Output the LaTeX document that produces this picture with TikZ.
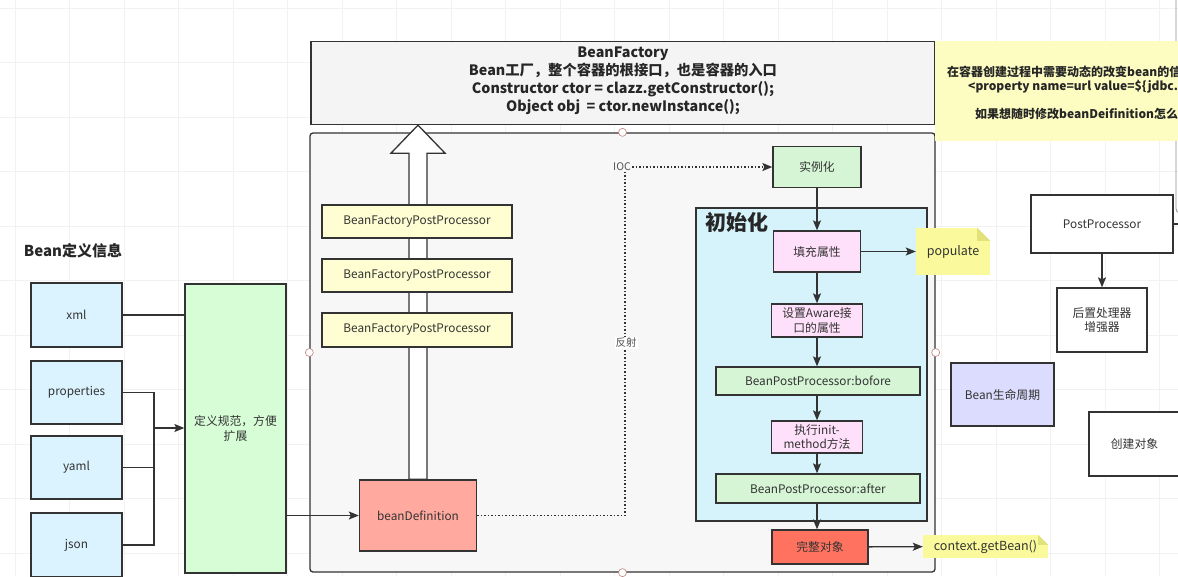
\documentclass[tikz,border=0pt]{standalone}
\usepackage{fontspec}
\setmainfont{Noto Sans CJK SC}
\usepackage{tikz}
\usetikzlibrary{arrows.meta}

\definecolor{edge}{HTML}{333333}
\definecolor{ink}{HTML}{333333}
\definecolor{bfgray}{HTML}{F4F4F4}
\definecolor{iocgray}{HTML}{F7F7F7}
\definecolor{procy}{HTML}{FEFED2}
\definecolor{defred}{HTML}{FFA99F}
\definecolor{stepgreen}{HTML}{D5F5D5}
\definecolor{initblue}{HTML}{D6F3FC}
\definecolor{steppink}{HTML}{FFE0FA}
\definecolor{fullred}{HTML}{FF725F}
\definecolor{notey}{HTML}{FAFA9C}
\definecolor{foldy}{HTML}{E2E27A}
\definecolor{tipy}{HTML}{FDFDC2}
\definecolor{srcblue}{HTML}{DAF3FE}
\definecolor{specgreen}{HTML}{D7FDD7}
\definecolor{lifeblue}{HTML}{DCDCFE}
\definecolor{handlered}{HTML}{C08080}

\begin{document}
\begin{tikzpicture}[x=1pt,y=-1pt,
  font=\fontsize{11.8}{14.5}\selectfont,
  box/.style={draw=edge,line width=1.3pt,text=ink,align=center,inner sep=2pt},
  link/.style={draw=edge,line width=1.3pt},
  flow/.style={link,-{Stealth[length=10pt,width=8pt,inset=2pt]}},
  dots/.style={draw=edge,line width=1.5pt,dotted},
  tag/.style={text=ink!85,inner sep=1pt,font=\fontsize{10.5}{12}\selectfont},
  gridline/.style={draw=black!5,line width=0.5pt},
  handle/.style={draw=handlered,fill=white,line width=0.6pt,circle,inner sep=0pt,minimum size=8pt},
  note/.style={fill=notey,text=ink,inner sep=3pt,font=\fontsize{12.5}{14}\selectfont}]
  \fill[white] (0,0) rectangle (1178,576);
  \useasboundingbox (0,0) rectangle (1178,576);
  \foreach \i in {0,...,21} \draw[gridline] (15+54.5*\i,0) -- (15+54.5*\i,576);
  \foreach \j in {0,...,10} \draw[gridline] (0,8+54.5*\j) -- (1178,8+54.5*\j);

  % left: sources of bean definitions
  \node[font=\bfseries\fontsize{15}{18}\selectfont,text=black!85] (deftitle) at (73,251) {Bean定义信息};
  \node[box,fill=srcblue,minimum width=91pt,minimum height=64pt] (xml) at (76.5,315) {xml};
  \node[box,fill=srcblue,minimum width=91pt,minimum height=63pt] (props) at (76.5,392.5) {properties};
  \node[box,fill=srcblue,minimum width=91pt,minimum height=63pt] (yaml) at (76.5,467.5) {yaml};
  \node[box,fill=srcblue,minimum width=91pt,minimum height=64pt] (json) at (76.5,545) {json};
  \node[box,fill=specgreen,minimum width=101pt,minimum height=289pt] (spec) at (235.5,428.5) {定义规范，方便\\扩展};
  \coordinate (merge) at (154,428);
  \draw[link] (xml.east) -- (xml.east -| spec.west);
  \draw[link] (props.east) -| (merge) |- (json.east);
  \draw[link] (yaml.east) -- (yaml.east -| merge);
  \draw[flow] (merge) -- (merge -| spec.west);

  % container
  \node[box,fill=bfgray,minimum width=624pt,minimum height=83pt] (bf) at (623,83) {};
  \node[font=\bfseries\fontsize{14.3}{18}\selectfont,text=black!85,align=center] (bftext) at (623,81)
    {BeanFactory\\Bean工厂，整个容器的根接口，也是容器的入口\\Constructor ctor = clazz.getConstructor();\\Object obj\ \ = ctor.newInstance();};
  \node[box,fill=iocgray,rounded corners=3pt,minimum width=625pt,minimum height=439pt] (ioc) at (622.5,352.5) {};

  \node[box,fill=defred,minimum width=117pt,minimum height=71pt] (bd) at (418,515.5) {beanDefinition};
  \draw[flow] (spec.east |- bd) -- (bd.west);

  % hollow arrow up to the factory
  \draw[draw=edge,line width=1.3pt,fill=white]
    ([xshift=-9pt]bd.north) -- ([xshift=-9pt,yshift=-28pt]bd.north |- bf.south)
    -- ([xshift=-27pt,yshift=-28pt]bd.north |- bf.south) -- (bd.north |- bf.south)
    -- ([xshift=27pt,yshift=-28pt]bd.north |- bf.south) -- ([xshift=9pt,yshift=-28pt]bd.north |- bf.south)
    -- ([xshift=9pt]bd.north) -- cycle;
  \node[box,fill=procy,minimum width=190pt,minimum height=33pt] (bfpp1) at (417,221.5) {BeanFactoryPostProcessor};
  \node[box,fill=procy,minimum width=190pt,minimum height=33pt] (bfpp2) at (417,275.5) {BeanFactoryPostProcessor};
  \node[box,fill=procy,minimum width=190pt,minimum height=34pt] (bfpp3) at (417,330) {BeanFactoryPostProcessor};

  % life cycle
  \node[box,fill=stepgreen,minimum width=88pt,minimum height=41pt] (inst) at (817,167) {实例化};
  \coordinate (turn) at (625,167);
  \draw[dots] (bd.east) -| (turn);
  \draw[dots,-{Stealth[length=10pt,width=8pt,inset=2pt]}] (turn) -- (inst.west);
  \node[tag,fill=iocgray] (ioclabel) at (622,167) {IOC};
  \node[tag,fill=white] (reflect) at (626,343) {反射};

  \node[box,fill=initblue,minimum width=231pt,minimum height=313pt] (init) at (811.5,364.5) {};
  \node[font=\bfseries\fontsize{21}{24}\selectfont,text=black!85,anchor=west] (inittitle) at (702,222) {初始化};
  \node[box,fill=steppink,minimum width=87pt,minimum height=41pt] (fill) at (817,251.5) {填充属性};
  \node[box,fill=steppink,minimum width=91pt,minimum height=33pt] (aware) at (817,320.5) {设置Aware接\\口的属性};
  \node[box,fill=stepgreen,minimum width=204pt,minimum height=28pt] (before) at (818,381) {BeanPostProcessor:bofore};
  \node[box,fill=steppink,minimum width=91pt,minimum height=32pt] (exec) at (817,437) {执行init-\\method方法};
  \node[box,fill=stepgreen,minimum width=204pt,minimum height=29pt] (after) at (818,488.5) {BeanPostProcessor:after};
  \node[box,fill=fullred,minimum width=96pt,minimum height=34pt] (full) at (820,547) {完整对象};
  \draw[flow] (inst) -- (fill);
  \draw[flow] (fill) -- (aware);
  \draw[flow] (aware) -- (aware |- before.north);
  \draw[flow] (before.south -| exec) -- (exec);
  \draw[flow] (exec) -- (exec |- after.north);
  \draw[flow] (after.south -| exec) -- (exec |- full.north);

  \node[note,minimum width=74pt,minimum height=47pt] (pop) at (953,251.5) {populate};
  \fill[white] ([xshift=-13pt]pop.north east) -- (pop.north east) -- ([yshift=-13pt]pop.north east) -- cycle;
  \fill[foldy] ([xshift=-13pt]pop.north east) -- ([yshift=-13pt]pop.north east) -- ([xshift=-13pt,yshift=-13pt]pop.north east) -- cycle;
  \draw[flow] (fill) -- (pop);
  \node[note,minimum width=125pt,minimum height=23pt] (getbean) at (985.5,546.5) {context.getBean()};
  \fill[white] ([xshift=-10pt]getbean.north east) -- (getbean.north east) -- ([yshift=-10pt]getbean.north east) -- cycle;
  \fill[foldy] ([xshift=-10pt]getbean.north east) -- ([yshift=-10pt]getbean.north east) -- ([xshift=-10pt,yshift=-10pt]getbean.north east) -- cycle;
  \draw[flow] (full) -- (getbean);

  % selection handles of the container
  \node[handle] (hn) at (ioc.north) {};
  \node[handle] (hw) at (ioc.west) {};
  \node[handle] (he) at (ioc.east) {};
  \node[handle] (hs) at (ioc.south) {};

  % right side
  \draw[draw=black!45,line width=0.8pt,rounded corners=4pt] (1176,-10) -- (1176,213) -- (1200,213);
  \node[fill=tipy,minimum width=270pt,minimum height=100pt] (tip) at (1070,91) {};
  \node[font=\bfseries\fontsize{12}{14}\selectfont,text=black!85,anchor=west,inner sep=0pt] (tip1) at (947,72) {在容器创建过程中需要动态的改变bean的信息};
  \node[font=\bfseries\fontsize{12}{14}\selectfont,text=black!85,anchor=west,inner sep=0pt] (tip2) at (968,87) {<property name=url value=\$\{jdbc.url\}>};
  \node[font=\bfseries\fontsize{12}{14}\selectfont,text=black!85,anchor=west,inner sep=0pt] (tip3) at (975,114) {如果想随时修改beanDeifinition怎么办};

  \node[box,fill=white,minimum width=142pt,minimum height=58pt] (pp) at (1102,224) {PostProcessor};
  \coordinate (ppout) at (1185,224);
  \draw[link] (pp.east) -- (ppout);
  \node[box,fill=white,minimum width=90pt,minimum height=64pt] (enh) at (1102,320) {后置处理器\\增强器};
  \draw[flow] (pp) -- (enh);
  \node[box,fill=lifeblue,minimum width=103pt,minimum height=63pt] (life) at (1002.5,394.5) {Bean生命周期};
  \node[box,fill=white,minimum width=91pt,minimum height=64pt] (create) at (1134.5,444) {创建对象};
\end{tikzpicture}
\end{document}
